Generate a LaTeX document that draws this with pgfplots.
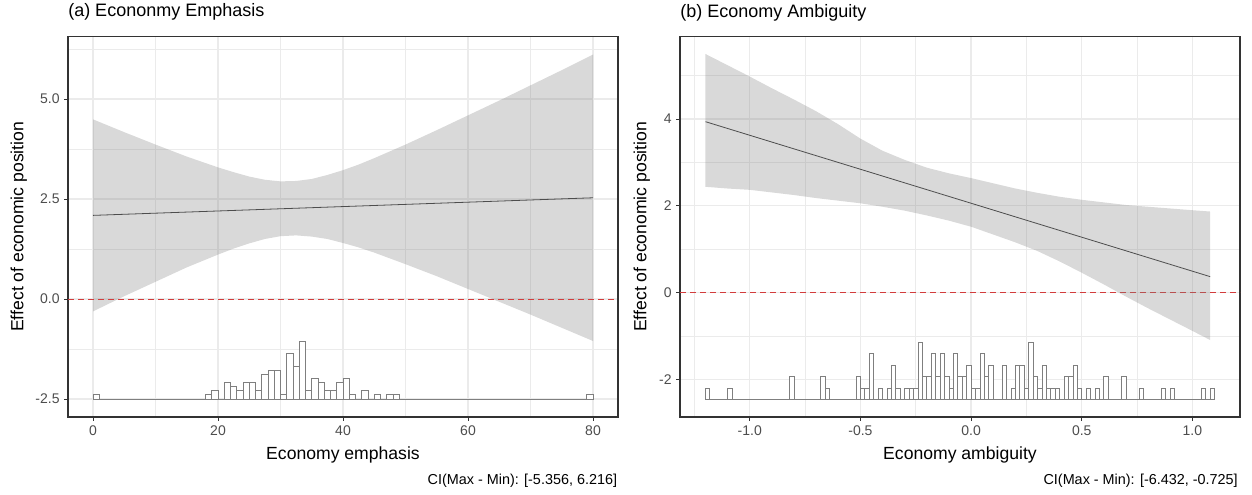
\documentclass[border=0pt]{standalone}
\usepackage{fontspec}
\setmainfont{Liberation Sans}
\usepackage{pgfplots}
\usepackage{pgfplotstable}
\pgfplotsset{compat=1.18}

\definecolor{gridc}{HTML}{EBEBEB}
\definecolor{framec}{HTML}{333333}
\definecolor{ticktext}{HTML}{4D4D4D}
\definecolor{histline}{HTML}{7F7F7F}
\definecolor{zeroline}{HTML}{D23C3C}
\definecolor{meanline}{HTML}{4D4D4D}

% confidence band, panel (a): upper edge left to right, then lower edge back
\pgfplotstableread{
x    y
0    4.49
5    4.17
10   3.86
15   3.56
20   3.29
22.5 3.17
25   3.06
27.5 2.98
30   2.94
32.5 2.95
35   3.00
37.5 3.10
40   3.22
42.5 3.36
45   3.52
50   3.86
55   4.22
60   4.59
65   4.96
70   5.34
75   5.72
80   6.11
80   -1.05
75   -0.72
70   -0.39
65   -0.07
60   0.25
55   0.57
50   0.87
45   1.16
42.5 1.29
40   1.40
37.5 1.50
35   1.56
32.5 1.59
30   1.57
27.5 1.50
25   1.39
22.5 1.26
20   1.11
15   0.79
10   0.43
5    0.07
0    -0.31
}\banda

% histogram of economy emphasis (bin centre, count)
\pgfplotstableread{
x    n
0.5  1
18.5 1
19.5 2
21.5 4
22.5 3
23.5 2
24.5 4
25.5 4
26.5 2
27.5 6
28.5 7
29.5 7
30.5 1
31.5 11
32.5 8
33.5 14
34.5 2
35.5 5
36.5 4
37.5 2
38.5 2
39.5 4
40.5 5
41.5 1
43.5 2
45.5 1
47.5 1
48.5 1
79.5 1
}\hista

% confidence band, panel (b): upper edge, then lower edge back
\pgfplotstableread{
x     y
-1.2  5.50
-1.1  5.24
-1.0  4.98
-0.9  4.71
-0.8  4.45
-0.7  4.18
-0.6  3.88
-0.5  3.55
-0.4  3.27
-0.3  3.06
-0.2  2.88
-0.1  2.75
0.0   2.64
0.1   2.52
0.2   2.40
0.3   2.30
0.4   2.21
0.5   2.14
0.6   2.08
0.7   2.02
0.8   1.98
0.9   1.94
1.0   1.90
1.08  1.87
1.08  -1.09
1.0   -0.88
0.9   -0.62
0.8   -0.36
0.7   -0.09
0.6   0.19
0.5   0.46
0.4   0.72
0.3   0.96
0.2   1.16
0.1   1.34
0.0   1.52
-0.1  1.66
-0.2  1.78
-0.3  1.89
-0.4  1.98
-0.5  2.06
-0.6  2.12
-0.7  2.18
-0.8  2.25
-0.9  2.31
-1.0  2.37
-1.1  2.40
-1.2  2.44
}\bandb

% histogram of economy ambiguity (bin centre, count)
\pgfplotstableread{
x      n
-1.19  1
-1.09  1
-0.81  2
-0.67  2
-0.65  1
-0.51  2
-0.49  1
-0.47  1
-0.45  4
-0.41  1
-0.37  1
-0.35  3
-0.33  1
-0.29  1
-0.27  1
-0.25  1
-0.23  5
-0.21  2
-0.19  2
-0.17  4
-0.15  2
-0.13  4
-0.11  2
-0.09  1
-0.07  4
-0.05  2
-0.03  2
-0.01  3
0.01   1
0.03   1
0.05   4
0.07   2
0.09   3
0.15   3
0.19   1
0.21   3
0.23   3
0.25   1
0.27   5
0.29   2
0.31   1
0.33   3
0.35   1
0.37   1
0.39   1
0.43   2
0.45   2
0.47   3
0.49   1
0.53   1
0.57   1
0.61   2
0.69   2
0.77   1
0.87   1
0.91   1
1.05   1
1.09   1
}\histb

\pgfplotsset{
  panel/.style={
    scale only axis, height=285.4pt, anchor=south west,
    tick pos=left, tick align=outside,
    major tick length=2.75pt, minor tick length=0pt,
    axis line style={framec, line width=0.8pt},
    tick style={framec, line width=0.6pt},
    grid=both,
    major grid style={gridc, line width=0.9pt},
    minor grid style={gridc, line width=0.45pt},
    tick label style={font=\fontsize{10.5}{12}\selectfont, text=ticktext},
    /pgf/number format/assume math mode=true,
    label style={font=\fontsize{13.2}{15}\selectfont},
    xlabel style={at={(axis description cs:0.5,0)}, anchor=base, yshift=-31.5pt, inner sep=0pt},
    ylabel style={anchor=base, inner sep=0pt},
    title style={at={(axis description cs:0,1)}, anchor=base west, yshift=8.6pt,
      inner sep=0pt, font=\fontsize{13.5}{16}\selectfont},
  },
  onedec/.style={/pgf/number format/fixed, /pgf/number format/fixed zerofill,
    /pgf/number format/precision=1},
  hist/.style={scale only axis, height=285.4pt, anchor=south west, hide axis},
  histbar/.style={ybar, bar shift=0pt, draw=histline, fill=white, line width=0.6pt},
  zero/.style={draw=zeroline, line width=0.6pt, dash pattern=on 4.5pt off 3pt},
  band/.style={fill=gray, fill opacity=0.3, draw=none},
}

\begin{document}
\begin{tikzpicture}

% ---------- (a) ----------
\begin{axis}[panel, name=pa, at={(51pt,57.75pt)}, width=412.5pt,
  xmin=-4, xmax=84, ymin=-2.95, ymax=6.5625,
  xtick={0,20,40,60,80}, minor xtick={10,30,50,70},
  ytick={-2.5,0,2.5,5}, minor ytick={-1.25,1.25,3.75,6.25},
  yticklabel style={onedec},
  xlabel={Economy emphasis}, ylabel={Effect of economic position},
  ylabel style={at={(axis description cs:-0.0813,0.5)}},
  title={(a) Econonmy Emphasis}]
\addplot[band] table[x=x, y=y] {\banda};
\addplot[meanline, line width=0.6pt] coordinates {(0,2.09) (80,2.53)};
\end{axis}
% histogram layer: count 0 sits at y = -2.5, one count = 0.103, so y = 0 is count 24.27
\begin{axis}[hist, at={(51pt,57.75pt)}, width=412.5pt,
  xmin=-4, xmax=84, ymin=-4.37, ymax=87.99]
\addplot[zero] coordinates {(-4,24.27) (84,24.27)};
\addplot[histline, line width=0.6pt] coordinates {(0,0) (80,0)};
\addplot[histbar, bar width=1] table[x=x, y=n] {\hista};
\end{axis}
\node[anchor=base east, inner sep=0pt, font=\fontsize{10.8}{13}\selectfont]
  at ([xshift=-0.5pt, yshift=-50.25pt]pa.south east) {CI(Max - Min): [-5.356, 6.216]};

% ---------- (b) ----------
\begin{axis}[panel, name=pb, at={(510pt,57.75pt)}, width=420pt,
  xmin=-1.315, xmax=1.215, ymin=-2.864, ymax=5.903,
  xtick={-1,-0.5,0,0.5,1}, minor xtick={-1.25,-0.75,-0.25,0.25,0.75},
  ytick={-2,0,2,4}, minor ytick={-1,1,3,5},
  xticklabel style={onedec},
  xlabel={Economy ambiguity}, ylabel={Effect of economic position},
  ylabel style={at={(axis description cs:-0.0602,0.5)}},
  title={(b) Economy Ambiguity}]
\addplot[zero] coordinates {(-1.315,0) (1.215,0)};
\addplot[band] table[x=x, y=y] {\bandb};
\addplot[meanline, line width=0.6pt] coordinates {(-1.2,3.94) (1.08,0.37)};
\end{axis}
\begin{axis}[hist, at={(510pt,57.75pt)}, width=420pt,
  xmin=-1.315, xmax=1.215, ymin=-1.534, ymax=31.65]
\addplot[histline, line width=0.6pt] coordinates {(-1.2,0) (1.1,0)};
\addplot[histbar, bar width=0.02] table[x=x, y=n] {\histb};
\end{axis}
\node[anchor=base east, inner sep=0pt, font=\fontsize{10.8}{13}\selectfont]
  at ([xshift=-1.5pt, yshift=-50.25pt]pb.south east) {CI(Max - Min): [-6.432, -0.725]};

\path (0,0) rectangle (939pt,370.5pt);
\end{tikzpicture}
\end{document}
